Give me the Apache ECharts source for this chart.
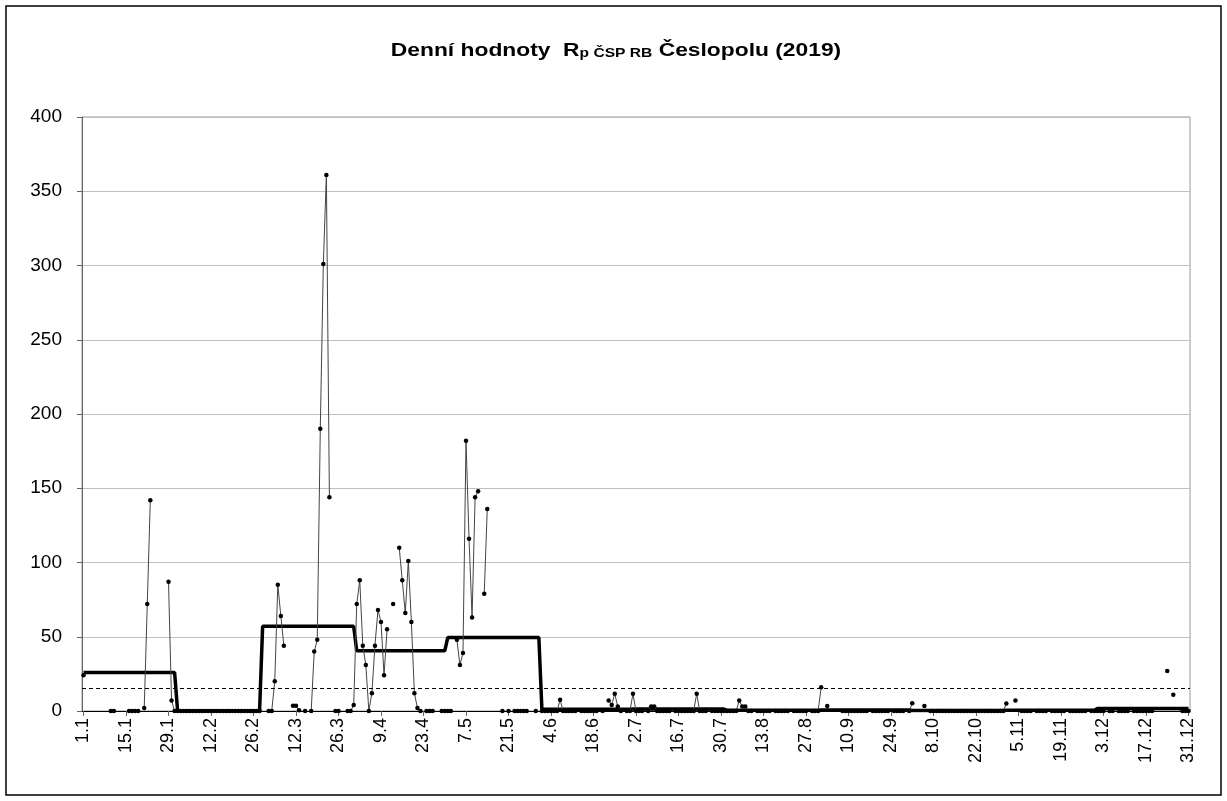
<!DOCTYPE html>
<html>
<head>
<meta charset="utf-8">
<script src="https://cdn.jsdelivr.net/npm/echarts@6/dist/echarts.min.js"></script>
<style>
html,body{margin:0;padding:0;background:#fff;}
#chart{width:1227px;height:801px;}
</style>
</head>
<body>
<div id="chart"></div>
<script>
// ---- data ----
const monthDays = [31,28,31,30,31,30,31,31,30,31,30,31];
const jan = [24,null,null,null,null,null,null,null,null,0,0,null,null,null,null,0,0,0,0,null,2,72,142,null,null,null,null,null,87,7,0];
const feb = [0,0,0,0,0,0,0,0,0,0,0,0,0,0,0,0,0,0,0,0,0,0,0,0,0,0,0,0];
const mar = [null,null,0,0,20,85,64,44,null,null,3.5,3.5,0.5,null,0,null,0,40,48,190,301,361,144,null,0,0,null,null,0,0,4];
const apr = [72,88,44,31,0,12,44,68,60,24,55,null,72,null,110,88,66,101,60,12,2,0,null,0,0,0,null,null,0,0];
const may = [0,0,null,48,31,39,182,116,63,144,148,null,79,136,null,null,null,null,0,null,0,null,0,0,0,0,0,null,null,0,null];
const jun = [0,0,0,0,0,0,7.5,0,0,0,0,0,null,0,0,0,0,0,0,null,0,null,7,4,11.6,3,0,null,0,0];
const jul = [11.6,0,0,0,null,0,3,3,0,0,0,0,0,null,0,0,0,0,0,0,0,11.6,0,0,0,null,0,0,0,0,0];
const aug = [0,0,0,0,7,3,3,0,0,null,0,0,0,0,0,null,0,0,0,0,0,null,0,0,0,0,0,null,0,0,0];
const sep = [16,null,3.4,null,null,null,null,0,0,0,0,0,0,0,0,0,null,0,0,0,0,0,0,null,0,0,0,0,null,0];
const oct = [5.2,null,null,null,3.4,null,0,0,0,0,0,0,0,0,0,0,0,0,0,0,0,0,0,0,0,0,0,0,0,0,0];
const nov = [5,null,null,7,null,0,0,0,0,null,0,0,0,0,null,0,0,0,0,0,null,0,0,0,0,0,0,null,0,0];
const dec = [0,0,0,null,0,0,null,0,0,0,0,null,0,0,0,0,0,0,0,null,null,null,null,27,null,11,null,null,0,0,0];
// monthly averages (thick line)
const monthlyAvg = [26,0,57,40.5,49.5,1.2,1.3,0.5,0.7,0.3,0.5,1.7];
// limit (dashed line)
const limitValue = 15;
const yTicks = {min:0,max:400,interval:50};
const titleMain = 'Denní hodnoty  R';
const titleSub = 'p ČSP RB';
const titleEnd = ' Česlopolu (2019)';

// ---- build ----
const months = [jan,feb,mar,apr,may,jun,jul,aug,sep,oct,nov,dec];
const categories = [];
const daily = [];
const avg = [];
monthDays.forEach((n,m)=>{
  for(let d=1; d<=n; d++){
    categories.push(d + '.' + (m+1));
    daily.push(months[m][d-1]);
    avg.push(monthlyAvg[m]);
  }
});

const chart = echarts.init(document.getElementById('chart'));
const font = '"Liberation Sans", Arial, sans-serif';
chart.setOption({
  animation:false,
  backgroundColor:'#fff',
  graphic:[{
    type:'rect', shape:{x:6,y:6,width:1215,height:789},
    style:{fill:'none',stroke:'#000',lineWidth:1.5}, silent:true, z:-1
  },{
    type:'text', x:616, y:47, scaleX:1.2, silent:true,
    style:{
      text:'{a|'+titleMain+'}{s|'+titleSub+'}{a|'+titleEnd+'}',
      align:'center', verticalAlign:'middle',
      rich:{
        a:{fontFamily:font,fontWeight:'bold',fontSize:19,fill:'#000',lineHeight:26,verticalAlign:'bottom'},
        s:{fontFamily:font,fontWeight:'bold',fontSize:13,fill:'#000',lineHeight:12,verticalAlign:'bottom'}
      }
    }
  }],
  grid:{left:82,right:37,top:117,bottom:90,show:true,borderColor:'#999',borderWidth:1},
  xAxis:{
    type:'category', data:categories, boundaryGap:true,
    axisLine:{lineStyle:{color:'#000',width:1}},
    axisTick:{show:true,interval:13,alignWithLabel:true,length:5,lineStyle:{color:'#666'}},
    axisLabel:{interval:13,rotate:90,fontFamily:font,fontSize:18,color:'#000',margin:7},
    splitLine:{show:false}
  },
  yAxis:{
    type:'value', min:yTicks.min, max:yTicks.max, interval:yTicks.interval,
    axisLine:{show:true,lineStyle:{color:'#666',width:1}},
    axisTick:{show:true,length:5,lineStyle:{color:'#666'}},
    axisLabel:{fontFamily:font,fontSize:19,color:'#000',margin:20},
    splitLine:{lineStyle:{color:'#c0c0c0',width:1}}
  },
  series:[
    {
      name:'avg', type:'line', data:avg, symbol:'none',
      lineStyle:{color:'#000',width:3.5}, z:2,
      markLine:{
        silent:true, symbol:'none', label:{show:false},
        lineStyle:{color:'#000',type:[4,3],width:1},
        data:[{yAxis:limitValue}]
      }
    },
    {
      name:'daily', type:'line', data:daily, connectNulls:false,
      symbol:'circle', symbolSize:4.5, showAllSymbol:true,
      itemStyle:{color:'#000'},
      lineStyle:{color:'#444',width:1}, z:3
    }
  ]
});
</script>
</body>
</html>
